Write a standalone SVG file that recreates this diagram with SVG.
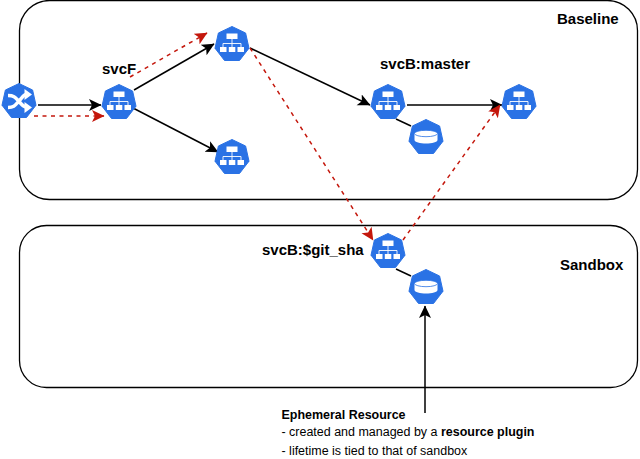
<svg xmlns="http://www.w3.org/2000/svg" width="640" height="459" viewBox="0 0 640 459">
<style>
text{font-family:"Liberation Sans",Arial,sans-serif;fill:#000}
.t{font-size:15px;font-weight:bold}
.n{font-size:12.48px}
.b{font-weight:bold}
.box{fill:#fff;stroke:#000;stroke-width:1.3}
.k{fill:none;stroke:#000;stroke-width:1.5}
.r{fill:none;stroke:#c4170c;stroke-width:1.5;stroke-dasharray:4 4.500}
.w{fill:#fff}
.wl{fill:none;stroke:#fff;stroke-width:0.9}
</style>
<defs>
<marker id="ak" markerUnits="userSpaceOnUse" markerWidth="14" markerHeight="14" refX="12" refY="6" orient="auto"><path d="M0 0L12.500 6L0 12L3 6Z" fill="#000"/></marker>
<marker id="ar" markerUnits="userSpaceOnUse" markerWidth="14" markerHeight="14" refX="12" refY="6" orient="auto"><path d="M0 0L12.500 6L0 12L3 6Z" fill="#c4170c"/></marker>
<path id="hept" d="M0-17.500L13.600-11L17 4.200L7.500 16.500H-7.500L-17 4.200L-13.600-11Z" fill="#2a72e5" stroke="#2a72e5" stroke-width="1" stroke-linejoin="round"/>
<g id="svc">
<use href="#hept"/>
<rect class="w" x="-5.500" y="-10.500" width="11" height="5.500"/>
<path class="wl" d="M0-5V-0.500M-9 3V-0.500H9V3M0-0.500V3"/>
<rect class="w" x="-12" y="3" width="6.500" height="5"/>
<rect class="w" x="-3.200" y="3" width="6.500" height="5"/>
<rect class="w" x="5.500" y="3" width="6.500" height="5"/>
</g>
<g id="db">
<use href="#hept"/>
<path class="w" d="M-11.500-3.500V3C-11.500 5 -6 6.500 0 6.500S11.500 5 11.500 3V-3.500Z"/>
<ellipse cx="0" cy="-3.500" rx="11.500" ry="3.200" fill="#fff" stroke="#2a72e5" stroke-width="0.800"/>
</g>
</defs>
<rect class="box" x="19.500" y="0.500" width="618" height="199" rx="30"/>
<rect class="box" x="19.500" y="225.500" width="618" height="162" rx="27"/>
<g id="connectors">
<path class="k" d="M38 105H101" marker-end="url(#ak)"/>
<path class="k" d="M134 90L214 44" marker-end="url(#ak)"/>
<path class="k" d="M133 108L218 152" marker-end="url(#ak)"/>
<path class="k" d="M250 48L370 105" marker-end="url(#ak)"/>
<path class="k" d="M407 105H502" marker-end="url(#ak)"/>
<path class="k" d="M396 119L411 126"/>
<path class="k" d="M396 269L411 276"/>
<path class="k" d="M425 413V306" marker-end="url(#ak)"/>
<path class="r" d="M34 116H104" marker-end="url(#ar)"/>
<path class="r" d="M130 77L207 33" marker-end="url(#ar)"/>
<path class="r" d="M250 48L373 240" marker-end="url(#ar)"/>
<path class="r" d="M403 240L500 105" marker-end="url(#ar)"/>
</g>
<g id="ingress">
<use href="#hept" x="19" y="101"/>
<path d="M8 95.500C14 95.500 15 97 19 101.500S24 107 26 107M8 107.500C14 107.500 15 105.500 19 101S24 94.500 26 94.500" fill="none" stroke="#fff" stroke-width="3.400"/>
<path class="w" d="M24.500 89L32 94.500L24.500 100ZM24.500 102L32 107.500L24.500 113Z"/>
</g>
<g id="svcF"><use href="#svc" x="119" y="102"/><text class="t" x="102" y="74">svcF</text></g>
<g id="svcTop"><use href="#svc" x="232" y="44"/></g>
<g id="svcBottom"><use href="#svc" x="232" y="157"/></g>
<g id="svcBMaster"><use href="#svc" x="388" y="102"/><text class="t" x="380" y="69">svcB:master</text></g>
<g id="svcRight"><use href="#svc" x="519" y="102"/></g>
<g id="dbMaster"><use href="#db" x="426" y="137"/></g>
<g id="svcBSha"><use href="#svc" x="388" y="251"/><text class="t" x="262" y="255">svcB:$git_sha</text></g>
<g id="dbSha"><use href="#db" x="426" y="287"/></g>
<text class="t" x="557" y="24">Baseline</text>
<text class="t" x="560" y="270">Sandbox</text>
<g id="note">
<text class="n b" x="281.500" y="419">Ephemeral Resource</text>
<text class="n" x="281.500" y="436">- created and managed by a <tspan class="b">resource plugin</tspan></text>
<text class="n" x="281.500" y="455">- lifetime is tied to that of sandbox</text>
</g>
</svg>
